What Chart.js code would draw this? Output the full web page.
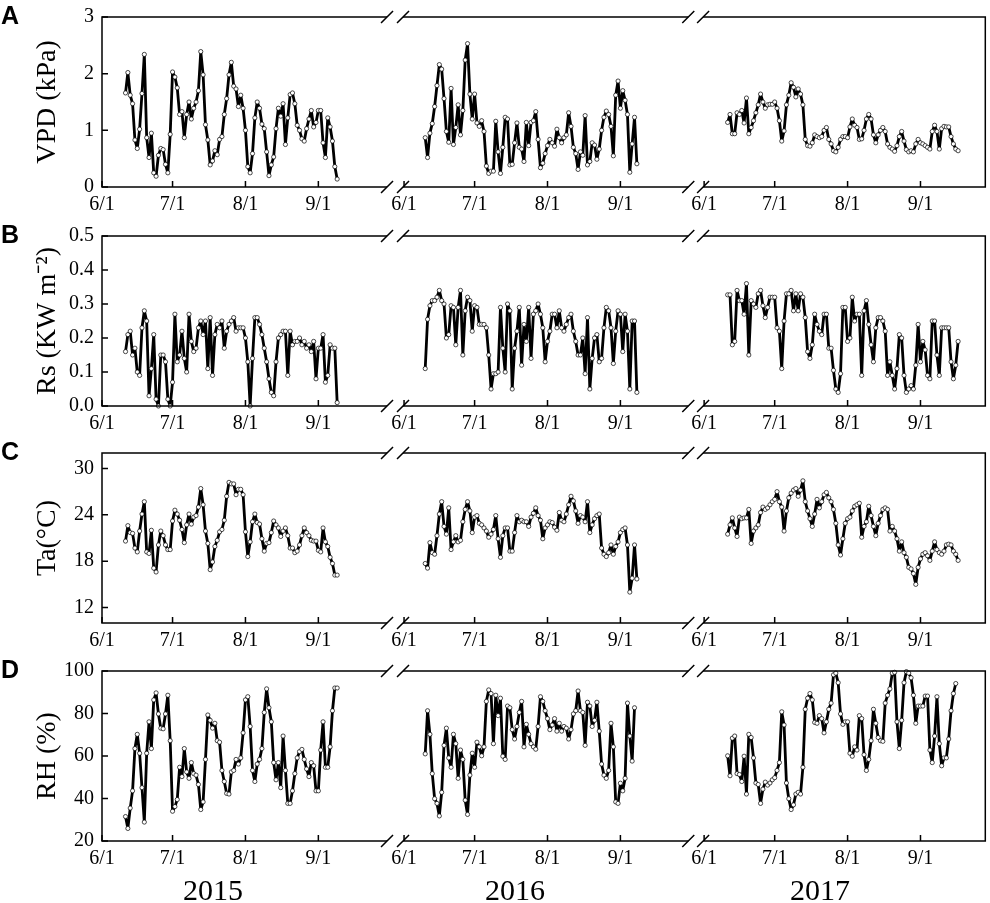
<!DOCTYPE html>
<html>
<head>
<meta charset="utf-8">
<script src="https://cdn.jsdelivr.net/npm/chart.js@4.4.1/dist/chart.umd.min.js"></script>
<style>
  body { margin: 0; background: #fff; }
  #page { position: relative; width: 990px; height: 903px; overflow: hidden; }
  canvas { position: absolute; left: 0; }
  .letter { position: absolute; font: bold 25px "Liberation Sans", Arial, sans-serif; color: #000; }
  .year { position: absolute; font: 30px "Liberation Serif", "Times New Roman", serif; color: #000; transform: translate(-50%, -50%); }
</style>
</head>
<body>
<div id="page"></div>
<script>
// days counted from 6/1 of each year
const years = ['2015', '2016', '2017'];
const yearOffset = [0, 128.44, 256.04];
const startDay = [10, 9, 10];
const monthDays = [0, 30, 61, 92];
const monthLabels = ['6/1', '7/1', '8/1', '9/1'];
const breakDays = [[121.2, 128.0], [249.3, 255.6]];

const vpd2015 = [1.66,2.02,1.62,1.47,0.83,0.68,1.02,1.65,2.34,0.87,
  0.52,0.95,0.25,0.19,0.56,0.68,0.66,0.40,0.25,0.93,
  2.03,1.94,1.75,1.28,1.33,0.87,1.28,1.50,1.20,1.39,
  1.50,1.70,2.39,1.98,1.10,0.83,0.39,0.46,0.64,0.57,
  0.84,0.89,1.28,1.56,1.98,2.20,1.78,1.73,1.42,1.62,
  1.39,1.00,0.36,0.25,0.59,1.22,1.50,1.39,1.11,1.03,
  0.62,0.20,0.39,0.53,1.03,1.39,1.25,1.47,0.75,1.22,
  1.63,1.66,1.47,1.09,1.00,0.85,0.81,1.03,1.20,1.35,
  1.06,1.14,1.35,1.35,0.78,0.52,1.22,1.06,0.81,0.36,
  0.14];
const vpd2016 = [0.87,0.52,0.95,1.12,1.42,1.79,2.16,2.08,1.56,0.98,
  0.79,1.74,0.75,1.05,1.45,0.92,1.35,2.24,2.53,1.64,
  1.20,1.64,1.13,1.07,1.17,0.98,0.37,0.24,0.28,0.28,
  1.16,0.62,0.24,0.70,1.23,1.20,0.39,0.40,0.78,1.13,
  0.70,0.67,0.45,1.14,0.73,1.14,1.17,1.33,0.84,0.34,
  0.42,0.59,0.73,0.84,0.78,0.72,1.02,0.87,0.78,0.87,
  0.92,1.31,1.07,0.70,0.59,0.31,0.62,0.56,1.26,0.39,
  0.45,0.78,0.74,0.49,0.67,1.00,1.23,1.34,1.28,1.07,
  0.55,1.62,1.87,1.39,1.70,1.53,1.28,0.26,0.76,1.23,
  0.41];
const vpd2017 = [1.14,1.28,0.94,0.94,1.31,1.28,1.35,1.13,1.57,0.94,
  1.05,1.17,1.31,1.45,1.64,1.50,1.39,1.45,1.46,1.46,
  1.50,1.39,1.17,0.81,0.99,1.45,1.62,1.84,1.76,1.59,
  1.73,1.64,1.45,0.84,0.73,0.72,0.78,0.92,0.89,0.87,
  0.89,1.00,1.05,0.84,0.76,0.64,0.62,0.70,0.84,0.89,
  0.89,0.87,1.06,1.20,1.09,1.05,0.84,0.85,1.00,1.20,
  1.28,1.20,0.92,0.78,0.92,1.00,1.05,0.98,0.76,0.70,
  0.67,0.63,0.73,0.89,0.98,0.81,0.66,0.62,0.64,0.62,
  0.76,0.84,0.78,0.76,0.73,0.70,0.67,0.98,1.09,0.98,
  0.67,1.03,1.07,1.06,1.06,0.89,0.76,0.67,0.64];

const rs2015 = [0.16,0.21,0.22,0.15,0.17,0.10,0.09,0.23,0.28,0.25,
  0.03,0.11,0.21,0.02,0.00,0.15,0.15,0.13,0.02,0.00,
  0.07,0.27,0.13,0.15,0.22,0.14,0.10,0.27,0.19,0.16,
  0.17,0.23,0.25,0.21,0.25,0.11,0.26,0.09,0.21,0.24,
  0.23,0.25,0.17,0.22,0.24,0.25,0.26,0.22,0.23,0.23,
  0.23,0.20,0.13,0.00,0.14,0.26,0.26,0.24,0.21,0.17,
  0.13,0.08,0.04,0.03,0.13,0.20,0.21,0.22,0.22,0.09,
  0.22,0.18,0.19,0.19,0.20,0.18,0.19,0.17,0.18,0.16,
  0.19,0.08,0.17,0.17,0.21,0.07,0.09,0.18,0.17,0.17,
  0.01];
const rs2016 = [0.11,0.255,0.295,0.31,0.31,0.32,0.34,0.31,0.30,0.20,
  0.21,0.295,0.29,0.18,0.29,0.34,0.15,0.28,0.32,0.31,
  0.22,0.295,0.29,0.24,0.24,0.24,0.23,0.15,0.05,0.095,
  0.095,0.10,0.29,0.17,0.10,0.30,0.28,0.05,0.17,0.22,
  0.29,0.12,0.24,0.19,0.29,0.14,0.27,0.28,0.30,0.27,
  0.23,0.13,0.19,0.22,0.27,0.27,0.23,0.28,0.23,0.22,
  0.24,0.26,0.27,0.22,0.19,0.15,0.15,0.20,0.095,0.26,
  0.05,0.14,0.20,0.21,0.13,0.14,0.23,0.29,0.28,0.23,
  0.125,0.22,0.28,0.27,0.16,0.27,0.22,0.05,0.25,0.25,
  0.04];
const rs2017 = [0.327,0.327,0.18,0.19,0.34,0.31,0.31,0.27,0.36,0.15,
  0.31,0.30,0.29,0.33,0.34,0.295,0.26,0.29,0.32,0.32,
  0.32,0.23,0.22,0.11,0.25,0.33,0.33,0.34,0.28,0.33,
  0.28,0.33,0.32,0.26,0.16,0.14,0.18,0.27,0.24,0.22,
  0.21,0.27,0.27,0.17,0.17,0.105,0.05,0.04,0.095,0.29,
  0.29,0.19,0.20,0.32,0.25,0.27,0.27,0.09,0.28,0.31,
  0.24,0.18,0.13,0.23,0.26,0.26,0.25,0.22,0.09,0.13,
  0.09,0.05,0.11,0.21,0.20,0.09,0.04,0.05,0.06,0.05,
  0.12,0.24,0.13,0.19,0.165,0.09,0.08,0.25,0.25,0.15,
  0.09,0.23,0.23,0.23,0.23,0.13,0.08,0.12,0.19];

const ta2015 = [20.6,22.6,21.7,21.6,19.7,19.2,21.9,24.1,25.7,19.2,
  19.0,22.0,17.1,16.6,20.1,21.9,21.3,20.1,19.5,19.5,
  23.2,24.6,24.1,23.3,22.1,20.4,22.7,24.1,22.8,23.7,
  23.9,25.0,27.4,25.3,21.9,20.3,16.9,17.9,19.9,20.7,
  21.8,22.1,23.3,26.4,28.2,28.0,28.0,26.6,27.3,27.3,
  26.6,21.8,18.6,20.5,23.1,24.1,23.0,22.8,20.9,19.3,
  20.3,20.4,21.7,23.2,22.7,22.3,21.2,21.9,22.3,21.3,
  19.7,19.7,19.1,19.3,20.1,21.3,22.3,21.7,21.3,20.7,
  20.6,20.6,19.4,19.2,22.3,20.5,19.9,18.5,17.7,16.2,
  16.2];
const ta2016 = [17.7,17.1,20.4,19.1,18.9,21.3,24.1,25.7,22.5,21.5,
  24.9,19.5,20.5,21.3,20.5,20.7,23.1,24.7,25.7,24.5,
  21.7,23.7,23.9,22.9,22.7,22.3,21.9,21.1,21.5,22.1,
  23.9,20.9,18.5,21.3,22.3,22.3,19.3,19.3,21.7,23.9,
  23.1,23.3,23.1,23.1,22.5,23.7,24.2,24.9,23.9,
  23.3,20.9,22.3,22.7,23.1,23.0,22.4,22.0,24.3,23.3,
  23.1,24.1,25.3,26.4,25.8,24.5,22.9,23.9,23.7,23.1,
  25.7,21.7,22.7,23.5,23.9,24.1,19.7,18.9,18.6,19.1,
  20.1,18.9,19.9,20.5,21.7,22.1,22.3,20.1,14.0,15.8,
  20.1,15.7];
const ta2017 = [21.5,22.7,23.6,22.3,21.2,23.7,23.5,23.6,23.6,24.7,
  20.3,21.9,22.3,22.7,24.3,25.0,24.7,24.9,25.3,25.7,
  26.0,27.0,25.7,25.0,21.9,24.5,26.2,26.8,27.2,27.4,
  26.4,27.2,28.4,25.7,24.5,23.5,22.5,24.1,26.0,24.9,
  25.7,26.6,26.9,26.2,25.7,24.7,22.9,20.1,18.8,20.9,
  22.9,23.5,23.7,24.5,25.1,25.3,25.5,21.1,22.5,23.1,
  25.1,23.9,22.5,21.3,22.9,23.9,24.7,24.9,24.7,21.9,
  22.5,21.9,20.9,19.3,20.5,19.1,18.5,17.2,17.0,16.4,
  15.0,17.2,18.3,18.9,19.1,18.7,18.1,19.3,20.5,19.5,
  19.1,18.9,19.3,20.1,20.2,20.1,19.3,18.9,18.1];

const rh2015 = [31.5,25.9,35.5,43.6,63.5,70.2,61.3,45.1,28.9,61.3,
  76.1,63.5,86.4,89.7,79.8,73.1,72.8,79.8,88.6,67.2,
  34.0,36.2,39.5,54.7,50.3,63.5,52.5,49.5,56.9,51.7,
  51.0,46.6,34.8,38.4,58.4,79.3,76.8,73.1,75.4,67.2,
  66.5,53.2,48.0,42.4,42.1,52.5,53.2,58.4,56.2,59.1,
  70.9,86.4,87.9,73.9,53.2,48.0,56.2,58.4,63.5,80.5,
  91.6,82.7,76.1,56.9,48.8,56.9,45.1,69.4,53.2,37.7,
  37.7,43.6,51.7,59.1,62.1,63.1,58.4,53.9,50.3,56.9,
  55.4,43.6,43.6,62.8,76.1,54.7,54.7,64.3,81.3,92.0,
  92.0];
const rh2016 = [61.0,81.3,70.2,51.7,39.9,37.7,31.8,42.9,65.0,73.1,
  59.1,54.7,70.2,65.8,49.5,62.8,58.4,39.2,32.5,51.0,
  61.3,54.7,66.5,64.3,60.1,64.3,85.7,91.1,89.4,65.8,
  88.6,79.0,87.2,59.9,58.4,83.5,82.7,72.4,68.0,73.9,
  80.5,85.7,64.3,
  74.9,70.2,65.8,64.3,63.2,73.9,87.9,85.7,81.3,77.6,
  72.4,74.6,77.6,71.7,75.4,71.7,73.9,73.1,68.0,72.4,
  79.8,81.3,90.6,81.3,80.5,65.0,85.3,83.5,73.9,76.8,
  85.3,71.7,56.2,51.0,49.5,53.2,75.4,64.3,38.4,37.7,
  47.2,43.6,49.5,84.9,69.4,57.6,82.7];
const rh2017 = [60.1,50.7,68.4,69.4,51.7,51.3,48.0,59.9,42.1,70.2,
  68.7,59.1,47.3,46.6,37.7,44.4,47.7,46.3,47.3,48.8,
  49.8,53.2,56.9,80.8,74.6,47.3,39.9,34.8,37.0,42.1,
  42.9,42.1,54.7,82.0,87.2,89.4,86.4,75.8,75.4,79.0,
  77.6,70.9,76.1,82.0,84.9,98.2,99.0,94.5,79.8,74.9,
  76.1,76.1,61.3,59.9,64.3,62.8,79.0,77.6,60.6,53.2,
  58.4,67.2,82.0,75.4,68.7,67.2,66.9,84.9,88.6,91.6,
  99.0,99.4,76.1,63.5,76.8,94.5,99.7,99.0,96.8,88.6,
  75.4,83.5,83.5,83.5,88.2,88.2,62.8,56.9,69.4,87.9,
  65.8,55.4,59.1,59.1,68.0,81.3,89.4,94.1];

const vpdTicks = [0, 1, 2, 3];
const rsTicks = [0, 0.1, 0.2, 0.3, 0.4, 0.5];
const taTicks = [12, 18, 24, 30];
const rhTicks = [20, 40, 60, 80, 100];

const SERIF = "'Liberation Serif', 'Times New Roman', serif";
Chart.defaults.font.family = SERIF;
Chart.defaults.color = '#000';

const X_MAX = 375.6;
const PAD_TOP = 10, PLOT_H = 180, AXIS_H = 40;

const panels = [
  {letter: 'A', top: 7, title: 'VPD (kPa)', min: 0, max: 3, ticks: vpdTicks, fmt: v => String(v), series: [vpd2015, vpd2016, vpd2017]},
  {letter: 'B', top: 226, title: 'Rs (KW m\u207B\u00B2)', min: 0, max: 0.5, ticks: rsTicks, fmt: v => v.toFixed(1), series: [rs2015, rs2016, rs2017]},
  {letter: 'C', top: 443, title: 'Ta(\u00B0C)', min: 10, max: 32, ticks: taTicks, fmt: v => String(v), series: [ta2015, ta2016, ta2017]},
  {letter: 'D', top: 661, title: 'RH (%)', min: 20, max: 100, ticks: rhTicks, fmt: v => String(v), series: [rh2015, rh2016, rh2017]}
];

const xTickValues = [];
const xTickLabels = [];
yearOffset.forEach(off => {
  monthDays.forEach((d, i) => { xTickValues.push(off + d); xTickLabels.push(monthLabels[i]); });
});

// frame, inward ticks and the axis breaks
const frame = {
  id: 'frame',
  afterDraw(chart) {
    const {ctx, chartArea: a, scales: {x, y}} = chart;
    ctx.save();
    ctx.strokeStyle = '#000';
    ctx.lineWidth = 1.5;
    ctx.strokeRect(a.left, a.top, a.right - a.left, a.bottom - a.top);
    ctx.beginPath();
    x.ticks.forEach(t => {
      const px = x.getPixelForValue(t.value);
      ctx.moveTo(px, a.bottom); ctx.lineTo(px, a.bottom - 6);
    });
    y.ticks.forEach(t => {
      const py = y.getPixelForValue(t.value);
      ctx.moveTo(a.left, py); ctx.lineTo(a.left + 6, py);
    });
    ctx.stroke();
    breakDays.forEach(([b1, b2]) => {
      const p1 = x.getPixelForValue(b1), p2 = x.getPixelForValue(b2);
      [a.top, a.bottom].forEach(yy => {
        ctx.fillStyle = '#fff';
        ctx.fillRect(p1, yy - 2, p2 - p1, 4);
        ctx.beginPath();
        [p1, p2].forEach(p => { ctx.moveTo(p - 6, yy + 6); ctx.lineTo(p + 6, yy - 6); });
        ctx.stroke();
      });
    });
    ctx.restore();
  }
};

const page = document.getElementById('page');

panels.forEach(p => {
  const canvas = document.createElement('canvas');
  canvas.width = 990;
  canvas.height = PAD_TOP + PLOT_H + AXIS_H;
  canvas.style.top = (p.top - PAD_TOP) + 'px';
  page.appendChild(canvas);

  const letter = document.createElement('div');
  letter.className = 'letter';
  letter.textContent = p.letter;
  letter.style.left = '1px';
  letter.style.top = (p.top - 6) + 'px';
  page.appendChild(letter);

  const datasets = p.series.map((vals, k) => ({
    label: years[k],
    data: vals.map((v, i) => ({x: yearOffset[k] + startDay[k] + i, y: v})),
    borderColor: '#000',
    borderWidth: 2.8,
    borderJoinStyle: 'round',
    borderCapStyle: 'round',
    pointRadius: 2.1,
    pointBackgroundColor: '#fff',
    pointBorderColor: '#000',
    pointBorderWidth: 0.7,
    tension: 0,
    clip: false
  }));

  new Chart(canvas, {
    type: 'line',
    data: {datasets},
    options: {
      responsive: false,
      animation: false,
      layout: {padding: {top: PAD_TOP, right: 2, left: 0, bottom: 0}},
      plugins: {legend: {display: false}, tooltip: {enabled: false}},
      scales: {
        x: {
          type: 'linear', min: 0, max: X_MAX,
          grid: {display: false, drawTicks: false},
          border: {display: false},
          afterBuildTicks: s => { s.ticks = xTickValues.map(v => ({value: v})); },
          afterFit: s => { s.height = AXIS_H; },
          ticks: {autoSkip: false, maxRotation: 0, padding: 6, color: '#000',
                  font: {family: SERIF, size: 20},
                  callback: (v, i) => xTickLabels[i]}
        },
        y: {
          min: p.min, max: p.max,
          grid: {display: false, drawTicks: false},
          border: {display: false},
          afterBuildTicks: s => { s.ticks = p.ticks.map(v => ({value: v})); },
          afterFit: s => { s.width = 102; },
          ticks: {padding: 8, color: '#000', font: {family: SERIF, size: 20},
                  callback: v => p.fmt(v)},
          title: {display: true, text: p.title, color: '#000',
                  font: {family: SERIF, size: 28}, padding: {top: 31, bottom: 0}}
        }
      }
    },
    plugins: [frame]
  });
});

const yearX = [213, 515, 820];
years.forEach((yr, k) => {
  const d = document.createElement('div');
  d.className = 'year';
  d.textContent = yr;
  d.style.left = yearX[k] + 'px';
  d.style.top = '890px';
  page.appendChild(d);
});
</script>
</body>
</html>
